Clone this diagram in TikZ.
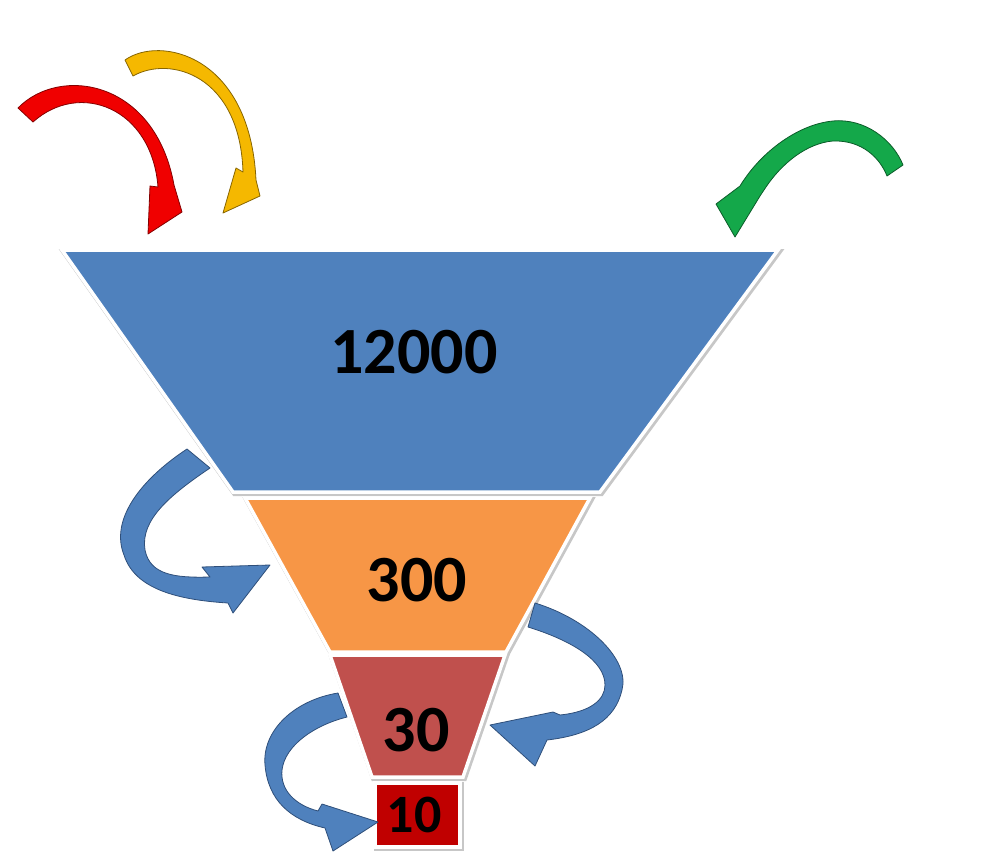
\documentclass[tikz,border=0pt]{standalone}
\usepackage{fontspec}
\setmainfont{Carlito}
\definecolor{fblue}{HTML}{4F81BD}
\definecolor{forange}{HTML}{F79646}
\definecolor{fred}{HTML}{C0504D}
\definecolor{fdred}{HTML}{C00000}
\definecolor{ablue}{HTML}{4F81BD}
\definecolor{ablueline}{HTML}{2F4F7A}
\definecolor{ared}{HTML}{F00000}
\definecolor{ayellow}{HTML}{F5B800}
\definecolor{agreen}{HTML}{14A84A}
\begin{document}
\begin{tikzpicture}[x=1pt,y=-1pt,
  layer/.style={fill=#1,draw=white,line width=3.5pt,line join=miter},
  shade/.style={draw=black!22,line width=5pt,line join=miter},
  bigarrow/.style={fill=#1,draw=#1!55!black,line width=0.8pt,line join=round},
  num/.style={inner sep=0pt,text=black}]
\useasboundingbox (0,0) rectangle (987,867);
% funnel shadows
\draw[shade,shift={(1.5,1.5)}] (62,250) -- (778,250) -- (600,492) -- (233,492) -- cycle;
\draw[shade,shift={(1.5,1.5)}] (245,498) -- (590,498) -- (506,652) -- (330,652) -- cycle;
\draw[shade,shift={(1.5,1.5)}] (330,655) -- (505,655) -- (463,777) -- (372,777) -- cycle;
\draw[shade,shift={(1.5,1.5)}] (375,783) rectangle (460,847);
% funnel layers
\draw[layer=fblue] (62,250) -- (778,250) -- (600,492) -- (233,492) -- cycle;
\draw[layer=forange] (245,498) -- (590,498) -- (506,652) -- (330,652) -- cycle;
\draw[layer=fred] (330,655) -- (505,655) -- (463,777) -- (372,777) -- cycle;
\draw[layer=fdred] (375,783) rectangle (460,847);
% numbers
\node[num,font=\fontsize{66}{66}\bfseries] (n12000) at (414,352) {12000};
\node[num,font=\fontsize{66}{66}\bfseries] (n300) at (417,580) {300};
\node[num,font=\fontsize{66}{66}\bfseries] (n30) at (416,730) {30};
\node[num,font=\fontsize{54}{54}\bfseries] (n10) at (414,815) {10};
% red arrow
\filldraw[bigarrow=ared] (18,108) .. controls (60,65) and (155,80) .. (174,185)
  -- (182,212) -- (148,234) -- (150,186) -- (158,187)
  .. controls (152,108) and (80,80) .. (33,122) -- cycle;
% yellow arrow
\filldraw[bigarrow=ayellow] (125,60) .. controls (160,35) and (250,55) .. (256,180)
  -- (260,196) -- (223,213) -- (236,168) -- (243,172)
  .. controls (240,75) and (170,55) .. (133,76) -- cycle;
% green arrow
\filldraw[bigarrow=agreen] (903,165) .. controls (893,140) and (865,118) .. (833,121)
  .. controls (800,124) and (762,150) .. (740,186)
  -- (716,204) -- (735,237) -- (760,196) -- (764,190)
  .. controls (782,162) and (808,143) .. (833,141)
  .. controls (862,140) and (880,158) .. (887,176) -- cycle;
% blue arrow left (12000 -> 300)
\filldraw[bigarrow=ablue,draw=ablueline] (187,449) .. controls (140,480) and (110,520) .. (124,555)
  .. controls (135,590) and (180,600) .. (228,603)
  -- (233,613) -- (270,565) -- (202,567) -- (210,577)
  .. controls (175,578) and (150,575) .. (145,550)
  .. controls (140,520) and (170,495) .. (210,468) -- cycle;
% blue arrow right (300 -> 30)
\filldraw[bigarrow=ablue,draw=ablueline] (535,603) .. controls (590,620) and (630,660) .. (622,690)
  .. controls (615,720) and (590,735) .. (547,740)
  -- (535,766) -- (490,725) -- (553,712) -- (560,715)
  .. controls (590,712) and (605,700) .. (605,685)
  .. controls (605,660) and (570,640) .. (528,627) -- cycle;
% blue arrow bottom (30 -> 10)
\filldraw[bigarrow=ablue,draw=ablueline] (338,693) .. controls (295,700) and (262,730) .. (265,765)
  .. controls (268,800) and (290,820) .. (325,828)
  -- (333,851) -- (378,822) -- (322,804) -- (318,811)
  .. controls (295,805) and (280,790) .. (282,770)
  .. controls (285,745) and (315,725) .. (347,717) -- cycle;
\end{tikzpicture}
\end{document}
